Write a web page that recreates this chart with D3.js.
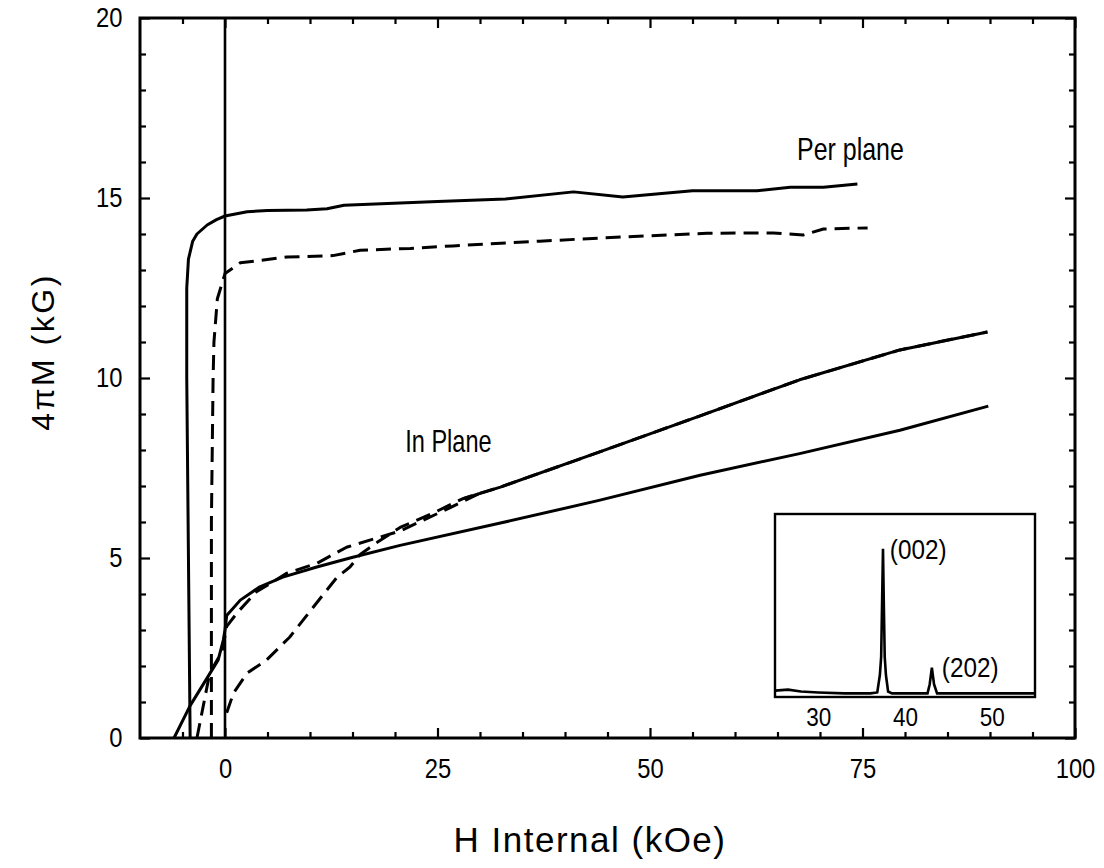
<!DOCTYPE html>
<html>
<head>
<meta charset="utf-8">
<script src="https://cdn.jsdelivr.net/npm/d3@7"></script>
<style>
  html, body { margin: 0; padding: 0; background: #fff; }
  svg text { font-family: "Liberation Sans", Arial, sans-serif; fill: #000; }
</style>
</head>
<body>
<div id="chart"></div>
<script>
// 4πM vs H internal, with XRD inset
const perSolid = [[-4.1,0],[-4.3,5],[-4.5,10],[-4.5,12.5],[-4.3,13.3],[-3.8,13.8],[-3.3,14.0],[-2.1,14.25],[-1,14.4],[0,14.5],[2.6,14.62],[5,14.65],[9.6,14.67],[12,14.7],[14,14.8],[20.6,14.86],[25,14.9],[33,14.97],[41,15.17],[46.8,15.03],[55,15.2],[62.6,15.2],[66.5,15.3],[70.4,15.3],[74.4,15.39]];
const perDashed = [[-1.6,0],[-1.6,6],[-1.4,10],[-1.3,11],[-0.9,12.2],[0,12.9],[1.8,13.2],[7.3,13.36],[12.7,13.4],[15.9,13.55],[21.8,13.6],[26.8,13.67],[37,13.8],[46.8,13.92],[56.7,14.02],[64.5,14.03],[68,13.97],[70.4,14.14],[75.6,14.17]];
const inSolidLow = [[-6.0,0],[-4.1,0.9],[-1.5,1.9],[-0.8,2.17],[-0.2,2.72],[0,3.0],[0.2,3.4],[1.8,3.83],[4.1,4.2],[6.8,4.47],[10.8,4.75],[14.7,5.0],[20.6,5.35],[32.4,5.97],[44,6.6],[55.9,7.3],[67.6,7.9],[79.4,8.55],[89.8,9.22]];
const inSolidHigh = [[28,6.65],[32.4,6.97],[44,7.94],[55.9,8.95],[67.6,9.95],[79.4,10.78],[89.7,11.28]];
const inDashedB = [[-3.3,0],[-1.8,1.8],[-0.35,2.4],[0.2,3.1],[1.4,3.47],[3.7,4.06],[7.3,4.58],[10.8,4.85],[14.3,5.3],[20.6,5.75],[26.5,6.4],[30,6.8]];
const inDashedC = [[0.2,0.7],[1,1.25],[2.6,1.8],[4.9,2.17],[7.6,2.8],[10.4,3.64],[13.2,4.47],[14.7,4.75],[15.9,5.1],[18,5.45],[20.6,5.85],[24.5,6.25],[28,6.65],[32.4,6.97],[44,7.94],[55.9,8.95],[67.6,9.95],[79.4,10.78],[89.7,11.28]];

const xMajor = [0, 25, 50, 75, 100];
const xMinor = [-5, 5, 10, 15, 20, 30, 35, 40, 45, 55, 60, 65, 70, 80, 85, 90, 95];
const yMajor = [0, 5, 10, 15, 20];
const yMinor = [1, 2, 3, 4, 6, 7, 8, 9, 11, 12, 13, 14, 16, 17, 18, 19];

// inset: XRD pattern (2θ, normalised intensity)
const xrd = [[25,0.035],[26.5,0.04],[28,0.03],[30,0.025],[33,0.02],[36,0.02],[36.8,0.025],[37.1,0.12],[37.25,0.22],[37.35,0.5],[37.46,0.81],[37.56,0.5],[37.66,0.22],[37.8,0.12],[38.05,0.03],[38.5,0.02],[42.6,0.02],[42.85,0.07],[43.1,0.16],[43.35,0.07],[43.7,0.02],[50,0.02],[55,0.02]];
const xrdTicks = [30, 40, 50];
const xrdPeaks = [{ label: "(002)", x: 38.25, y: 0.755 }, { label: "(202)", x: 44.25, y: 0.11 }];

const W = 1104, H = 868;
const svg = d3.select("#chart").append("svg").attr("width", W).attr("height", H);

const x = d3.scaleLinear().domain([-10, 100]).range([140, 1075]);
const y = d3.scaleLinear().domain([0, 20]).range([738, 18]);

const line = d3.line().x(d => x(d[0])).y(d => y(d[1]));

// frame
svg.append("rect").attr("x", x(-10)).attr("y", y(20))
    .attr("width", x(100) - x(-10)).attr("height", y(0) - y(20))
    .attr("fill", "none").attr("stroke", "#000").attr("stroke-width", 3);

const tidy = g => { g.select(".domain").remove(); g.selectAll(".tick line").attr("stroke", "#000").attr("stroke-width", 2.2); };
const narrow = (g, s) => g.selectAll("text").attr("font-size", 27).attr("transform", `scale(${s},1)`);

// bottom axis
svg.append("g").attr("transform", `translate(0,${y(0)})`)
    .call(d3.axisBottom(x).tickValues(xMajor).tickSize(-10).tickPadding(21).tickFormat(d3.format("d")))
    .call(tidy)
    .call(g => narrow(g, 0.88));
svg.append("g").attr("transform", `translate(0,${y(0)})`)
    .call(d3.axisBottom(x).tickValues(xMinor).tickSize(-6).tickFormat(""))
    .call(tidy);
// top axis
svg.append("g").attr("transform", `translate(0,${y(20)})`)
    .call(d3.axisTop(x).tickValues(xMajor).tickSize(-10).tickFormat(""))
    .call(tidy);
svg.append("g").attr("transform", `translate(0,${y(20)})`)
    .call(d3.axisTop(x).tickValues(xMinor).tickSize(-6).tickFormat(""))
    .call(tidy);
// left axis
svg.append("g").attr("transform", `translate(${x(-10)},0)`)
    .call(d3.axisLeft(y).tickValues(yMajor).tickSize(-10).tickPadding(20).tickFormat(d3.format("d")))
    .call(tidy)
    .call(g => narrow(g, 0.88));
svg.append("g").attr("transform", `translate(${x(-10)},0)`)
    .call(d3.axisLeft(y).tickValues(yMinor).tickSize(-6).tickFormat(""))
    .call(tidy);
// right axis
svg.append("g").attr("transform", `translate(${x(100)},0)`)
    .call(d3.axisRight(y).tickValues(yMajor).tickSize(-10).tickFormat(""))
    .call(tidy);
svg.append("g").attr("transform", `translate(${x(100)},0)`)
    .call(d3.axisRight(y).tickValues(yMinor).tickSize(-6).tickFormat(""))
    .call(tidy);

// zero-field line
svg.append("line").attr("x1", x(0)).attr("x2", x(0)).attr("y1", y(0)).attr("y2", y(20))
    .attr("stroke", "#000").attr("stroke-width", 2.6);

const curves = [
    { d: perSolid, dash: null },
    { d: perDashed, dash: "15,8" },
    { d: inSolidLow, dash: null },
    { d: inSolidHigh, dash: null },
    { d: inDashedB, dash: "15,8" },
    { d: inDashedC, dash: "15,8" }
];
svg.append("g").selectAll("path").data(curves).join("path")
    .attr("d", c => line(c.d))
    .attr("fill", "none").attr("stroke", "#000").attr("stroke-width", 3)
    .attr("stroke-linejoin", "round")
    .attr("stroke-dasharray", c => c.dash);

svg.append("text").attr("transform", `translate(${x(67.3)},${y(16.05)}) scale(0.78,1)`)
    .attr("font-size", 32).text("Per plane");
svg.append("text").attr("transform", `translate(${x(21.2)},${y(7.94)}) scale(0.76,1)`)
    .attr("font-size", 31).text("In Plane");

// axis titles
svg.append("text").attr("x", 590).attr("y", 852).attr("text-anchor", "middle")
    .attr("font-size", 35).attr("letter-spacing", 1.5).text("H Internal (kOe)");
svg.append("text").attr("transform", "translate(54,352) rotate(-90)").attr("text-anchor", "middle")
    .attr("font-size", 32).attr("letter-spacing", 2.5).text("4πM (kG)");

// inset
const ix = d3.scaleLinear().domain([25, 55]).range([775, 1035]);
const iy = d3.scaleLinear().domain([0, 1]).range([697, 514]);
const inset = svg.append("g");
inset.append("rect").attr("x", ix(25)).attr("y", iy(1))
    .attr("width", ix(55) - ix(25)).attr("height", iy(0) - iy(1))
    .attr("fill", "#fff").attr("stroke", "#000").attr("stroke-width", 2.4);
inset.append("path").datum(xrd)
    .attr("d", d3.line().x(d => ix(d[0])).y(d => iy(d[1])))
    .attr("fill", "none").attr("stroke", "#000").attr("stroke-width", 2.6);
inset.append("g").attr("transform", `translate(0,${iy(0)})`)
    .call(d3.axisBottom(ix).tickValues(xrdTicks).tickSize(0).tickPadding(11).tickFormat(d3.format("d")))
    .call(g => g.select(".domain").remove())
    .call(g => g.selectAll("text").attr("font-size", 25).attr("transform", "scale(0.9,1)"));
inset.selectAll("text.peak").data(xrdPeaks).join("text").attr("class", "peak")
    .attr("transform", d => `translate(${ix(d.x)},${iy(d.y)}) scale(0.9,1)`)
    .attr("font-size", 27).text(d => d.label);
</script>
</body>
</html>
